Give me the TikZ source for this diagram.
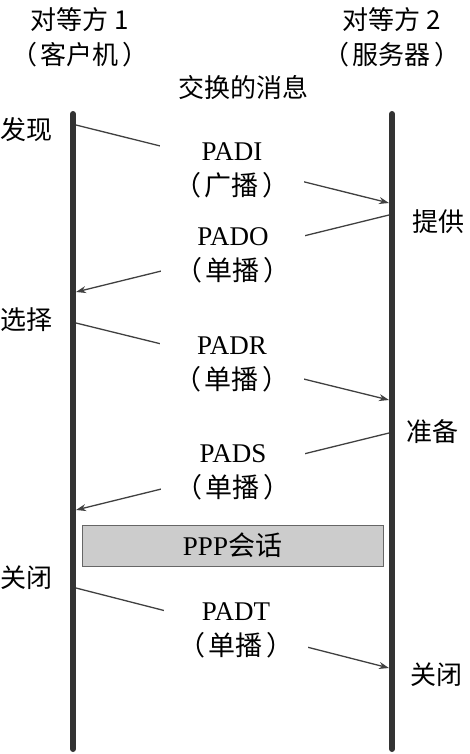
\documentclass[tikz,border=0pt]{standalone}
\usepackage{fontspec}
\setmainfont{Liberation Serif}
\newfontfamily\cjk{Noto Sans CJK SC}
\newcommand{\pgap}{\hspace{4pt}}
\usetikzlibrary{arrows.meta}
\begin{document}
\begin{tikzpicture}[x=1pt,y=-1pt,
 life/.style={line width=6pt, draw=black!80, line cap=round},
 msg/.style={draw=black!75, line width=1.3pt, -{Stealth[length=10pt,width=7pt]}},
 lbl/.style={fill=white, align=center, font=\fontsize{27}{35}\selectfont, inner xsep=14pt, inner ysep=1pt},
 head/.style={font=\cjk\fontsize{26}{35}\selectfont, align=center},
 side/.style={font=\cjk\fontsize{26}{30}\selectfont, inner sep=0pt},
 sess/.style={draw=black!60, fill=black!20, minimum width=301pt, minimum height=41pt, font=\fontsize{27}{30}\selectfont}]
\useasboundingbox (0,0) rectangle (470,754);
% headers
\node[head] (h1) at (80,37) {对等方 1\\（\pgap 客户机\pgap ）};
\node[head] (h2) at (392,37) {对等方 2\\（\pgap 服务器\pgap ）};
\node[head] (hx) at (243,88) {交换的消息};
% lifelines
\coordinate (Ltop) at (73,114);
\coordinate (Lbot) at (73,749);
\coordinate (Rtop) at (392,114);
\coordinate (Rbot) at (392,749);
\draw[life] (Ltop) -- (Lbot);
\draw[life] (Rtop) -- (Rbot);
% side labels
\node[side] (s1) at (26,130) {发现};
\node[side] (s2) at (438,222) {提供};
\node[side] (s3) at (27,320) {选择};
\node[side] (s4) at (432,432) {准备};
\node[side] (s5) at (26,578) {关闭};
\node[side] (s6) at (436,675) {关闭};
% message endpoints
\coordinate (a1) at (76,125);  \coordinate (b1) at (389,203);
\coordinate (a2) at (389,215); \coordinate (b2) at (76,292);
\coordinate (a3) at (76,323);  \coordinate (b3) at (389,400);
\coordinate (a4) at (389,433); \coordinate (b4) at (76,510);
\coordinate (a5) at (76,588);  \coordinate (b5) at (389,668);
\draw[msg] (a1) -- (b1);
\draw[msg] (a2) -- (b2);
\draw[msg] (a3) -- (b3);
\draw[msg] (a4) -- (b4);
\draw[msg] (a5) -- (b5);
% message labels
\node[lbl] (m1) at (232,170) {PADI\\{\cjk （\pgap 广播\pgap ）}};
\node[lbl] (m2) at (233,255) {PADO\\{\cjk （\pgap 单播\pgap ）}};
\node[lbl] (m3) at (232,364) {PADR\\{\cjk （\pgap 单播\pgap ）}};
\node[lbl] (m4) at (233,472) {PADS\\{\cjk （\pgap 单播\pgap ）}};
\node[lbl] (m5) at (236,630) {PADT\\{\cjk （\pgap 单播\pgap ）}};
% session
\node[sess] (ppp) at (232.5,545.5) {PPP{\cjk 会话}};
\end{tikzpicture}
\end{document}
